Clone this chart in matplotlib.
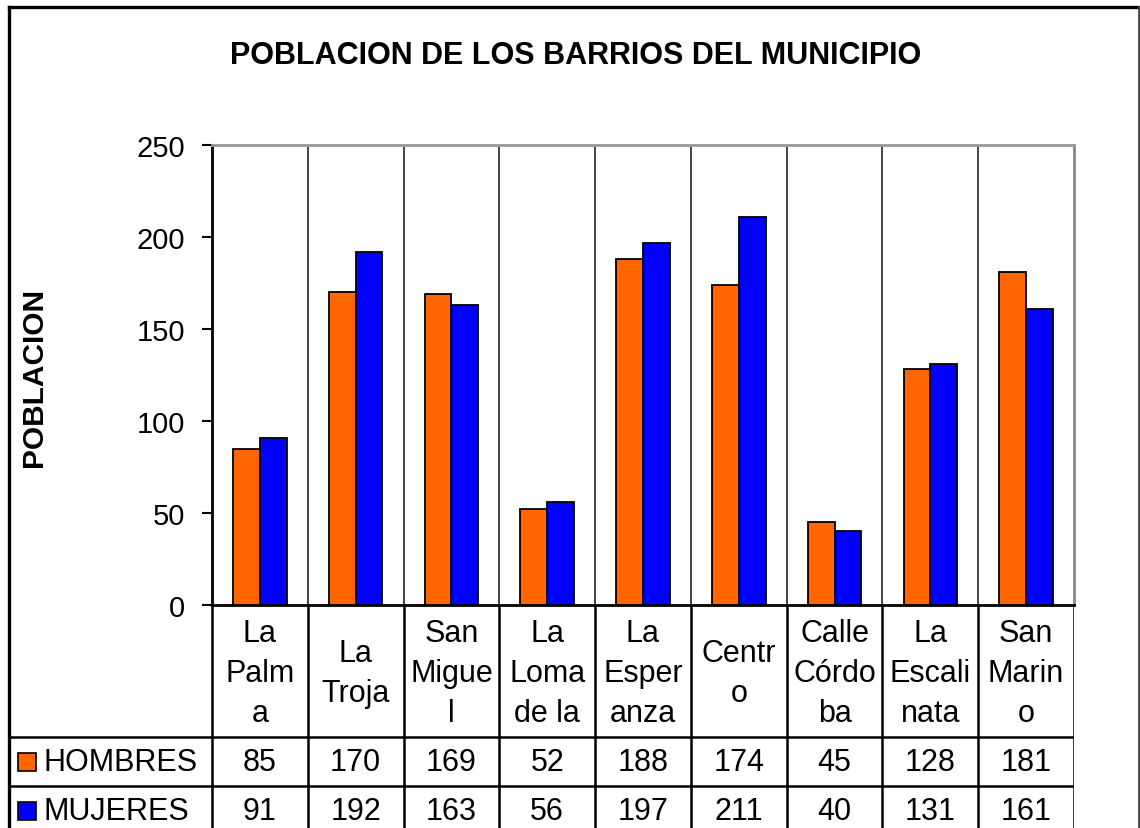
import numpy as np
import matplotlib.pyplot as plt
from matplotlib.lines import Line2D
from matplotlib.patches import Rectangle

plt.rcParams['font.family'] = ['Liberation Sans', 'DejaVu Sans']

barrios = ["La\nPalm\na", "La\nTroja", "San\nMigue\nl", "La\nLoma\nde la",
           "La\nEsper\nanza", "Centr\no", "Calle\nCórdo\nba", "La\nEscali\nnata",
           "San\nMarin\no"]
hombres = [85, 170, 169, 52, 188, 174, 45, 128, 181]
mujeres = [91, 192, 163, 56, 197, 211, 40, 131, 161]
series = ["HOMBRES", "MUJERES"]
colores = ["#FF6600", "#0000FF"]
titulo = "POBLACION DE LOS BARRIOS DEL MUNICIPIO"
ylabel = "POBLACION"

W, H = 1140, 829


def fx(x):
    return x / W


def fy(y):
    return 1 - y / H


fig = plt.figure(figsize=(W / 100, H / 100), dpi=100)

# plot area in pixels
x0, x1, ytop, ybot = 212, 1074, 146, 606
ax = fig.add_axes([fx(x0), fy(ybot), fx(x1 - x0), (ybot - ytop) / H])

n = len(barrios)
x = np.arange(n)
bw = 0.28
ax.bar(x - bw / 2, hombres, bw, color=colores[0], edgecolor='black', linewidth=1.3, zorder=3)
ax.bar(x + bw / 2, mujeres, bw, color=colores[1], edgecolor='black', linewidth=1.3, zorder=3)

ax.set_xlim(-0.5, n - 0.5)
ax.set_ylim(0, 250)
ax.set_yticks(np.arange(0, 251, 50))
ax.set_xticks([])
ax.set_xticks(np.arange(n - 1) + 0.5, minor=True)
ax.tick_params(axis='x', which='both', length=0, labelbottom=False)
ax.grid(which='minor', axis='x', color='#222222', linewidth=1.2, zorder=1)
ax.tick_params(axis='y', direction='out', length=7.5, width=1.5, pad=12,
               labelsize=21, color='black')

ax.spines['left'].set_linewidth(2)
ax.spines['bottom'].set_linewidth(2)
ax.spines['top'].set_color('#999999')
ax.spines['top'].set_linewidth(2)
ax.spines['right'].set_color('#888888')
ax.spines['right'].set_linewidth(2)

fig.text(fx(576), fy(56), titulo, ha='center', va='center',
         fontsize=22, fontweight='bold')
fig.text(fx(34), fy(377), ylabel, ha='center', va='center', rotation=90,
         fontsize=21.5, fontweight='bold')

# data table under the plot
tl = 9
upx = (x1 - x0) / n
tax = fig.add_axes([fx(tl), 0, fx(x1 - tl), (H - ybot) / H])
tax.set_xlim(-0.5 - (x0 - tl) / upx, n - 0.5)
tax.set_ylim(H - ybot, 0)
tax.axis('off')

row_h = 132
row2 = 181
row3 = 230
xl = -0.5 - (x0 - tl) / upx
for k in range(n + 1):
    tax.add_line(Line2D([k - 0.5, k - 0.5], [0, H], color='black', linewidth=1.8))
for yy in [row_h, row2]:
    tax.add_line(Line2D([xl, n - 0.5], [yy, yy], color='black', linewidth=1.8))

for i, name in enumerate(barrios):
    tax.text(i, row_h / 2 + 2, name, ha='center', va='center', fontsize=22,
             linespacing=1.42)
    tax.text(i, (row_h + row2) / 2 + 1, str(hombres[i]), ha='center', va='center', fontsize=22)
    tax.text(i, (row2 + row3) / 2 + 1, str(mujeres[i]), ha='center', va='center', fontsize=22)

for j, (s, c) in enumerate(zip(series, colores)):
    yc = [(row_h + row2) / 2, (row2 + row3) / 2][j]
    ypx = ybot + yc
    fig.patches.append(Rectangle((fx(18), fy(ypx + 9)), fx(18), 18 / H, facecolor=c,
                                 edgecolor='black', linewidth=1.2,
                                 transform=fig.transFigure, figure=fig))
    fig.text(fx(44), fy(ypx + 1), s, ha='left', va='center', fontsize=22)

# outer frame
fig.add_artist(Line2D([fx(9), fx(9)], [fy(8), 0], color='black', linewidth=2.4))
fig.add_artist(Line2D([fx(9), fx(1139)], [fy(8), fy(8)], color='black', linewidth=2.4))
fig.add_artist(Line2D([fx(1138.5), fx(1138.5)], [fy(8), 0], color='#444444', linewidth=2))

fig.savefig('out.png', dpi=100)
